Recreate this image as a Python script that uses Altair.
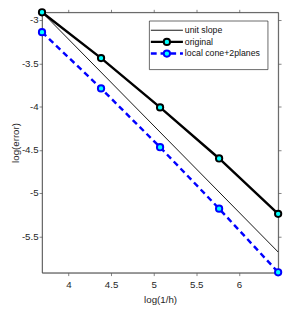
import altair as alt
import pandas as pd

# ---- data ----
x_vals = [3.689, 4.382, 5.075, 5.768, 6.461]          # log(1/h)
original = [-2.91, -3.44, -4.01, -4.60, -5.24]        # log(error), original
local = [-3.14, -3.79, -4.47, -5.18, -5.915]          # log(error), local cone+2planes
unit_x = [3.689, 6.461]
unit_y = [-2.91, -5.681]
x_ticks = [4, 4.5, 5, 5.5, 6]
y_ticks = [-5.5, -5, -4.5, -4, -3.5, -3]
legend_labels = ["unit slope", "original", "local cone+2planes"]

X_DOMAIN = [3.689, 6.461]
Y_DOMAIN = [-5.92, -2.91]
FONT = "Liberation Sans"
W, H = 243, 268

df_orig = pd.DataFrame({"x": x_vals, "y": original})
df_local = pd.DataFrame({"x": x_vals, "y": local})
df_unit = pd.DataFrame({"x": unit_x, "y": unit_y})

xscale = alt.Scale(domain=X_DOMAIN, nice=False, zero=False)
yscale = alt.Scale(domain=Y_DOMAIN, nice=False, zero=False)

lab = "datum.value + ''"

x_main = alt.X("x:Q", scale=xscale, axis=alt.Axis(values=x_ticks, title="log(1/h)", labelExpr=lab,
                                                   labelPadding=4, titlePadding=6))
y_main = alt.Y("y:Q", scale=yscale, axis=alt.Axis(values=y_ticks, title="log(error)", labelExpr=lab,
                                                   labelPadding=1, titlePadding=1))
x_none = alt.X("x:Q", scale=xscale, axis=None)
y_none = alt.Y("y:Q", scale=yscale, axis=None)
x_top = alt.X("x:Q", scale=xscale, axis=alt.Axis(values=x_ticks, orient="top", labels=False, title=None))
y_right = alt.Y("y:Q", scale=yscale, axis=alt.Axis(values=y_ticks, orient="right", labels=False, title=None))

unit_line = alt.Chart(df_unit).mark_line(color="#111111", strokeWidth=1).encode(x=x_main, y=y_main)
frame = alt.Chart(df_unit).mark_line(opacity=0).encode(x=x_top, y=y_right)

orig_line = alt.Chart(df_orig).mark_line(color="black", strokeWidth=2.5).encode(x=x_none, y=y_none)
orig_pts = alt.Chart(df_orig).mark_point(filled=True, fill="#00FFFF", stroke="black", strokeWidth=2,
                                         size=42, opacity=1).encode(x=x_none, y=y_none)
local_line = alt.Chart(df_local).mark_line(color="#0000FF", strokeWidth=2.5, strokeDash=[6, 4]).encode(
    x=x_none, y=y_none)
local_pts = alt.Chart(df_local).mark_point(filled=True, fill="#00FFFF", stroke="#0000FF", strokeWidth=2,
                                           size=42, opacity=1).encode(x=x_none, y=y_none)

# ---- manual legend (matches MATLAB style) ----
one = pd.DataFrame({"a": [0]})
leg_layers = [
    alt.Chart(one).mark_rect(fill="white", stroke="#262626", strokeWidth=0.7).encode(
        x=alt.value(110.5), x2=alt.value(232.5), y=alt.value(9), y2=alt.value(59))
]
leg_y = [18.5, 30.5, 42.5]
styles = [
    dict(color="#111111", strokeWidth=1),
    dict(color="black", strokeWidth=2.5),
    dict(color="#0000FF", strokeWidth=2.5, strokeDash=[6, 4]),
]
marker_stroke = [None, "black", "#0000FF"]
for i, label in enumerate(legend_labels):
    yy = leg_y[i]
    leg_layers.append(alt.Chart(one).mark_rule(**styles[i]).encode(
        x=alt.value(112), x2=alt.value(145), y=alt.value(yy)))
    if marker_stroke[i]:
        leg_layers.append(alt.Chart(one).mark_point(filled=True, fill="#00FFFF", stroke=marker_stroke[i],
                                                    strokeWidth=2, size=42, opacity=1).encode(
            x=alt.value(128.5), y=alt.value(yy)))
    leg_layers.append(alt.Chart(pd.DataFrame({"t": [label]})).mark_text(
        align="left", baseline="middle", fontSize=9, font=FONT, color="#111111").encode(
        x=alt.value(147), y=alt.value(yy), text="t:N"))

chart = alt.layer(unit_line, frame, orig_line, local_line, orig_pts, local_pts, *leg_layers).resolve_axis(
    x="independent", y="independent"
).properties(
    width=W, height=H,
    autosize=alt.AutoSizeParams(type="none"),
    padding={"left": 35, "top": 0, "right": 5, "bottom": 34},
).configure_view(
    stroke="#4d4d4d", strokeWidth=0.7
).configure_axis(
    grid=False, labelFont=FONT, titleFont=FONT, labelFontSize=10, titleFontSize=10,
    titleFontWeight="normal", labelColor="#262626", titleColor="#262626",
    domainColor="#4d4d4d", tickColor="#4d4d4d", tickSize=3, domainWidth=0.7, tickWidth=0.7,
)

chart.save("out.html", embed_options={"renderer": "svg", "actions": False})
